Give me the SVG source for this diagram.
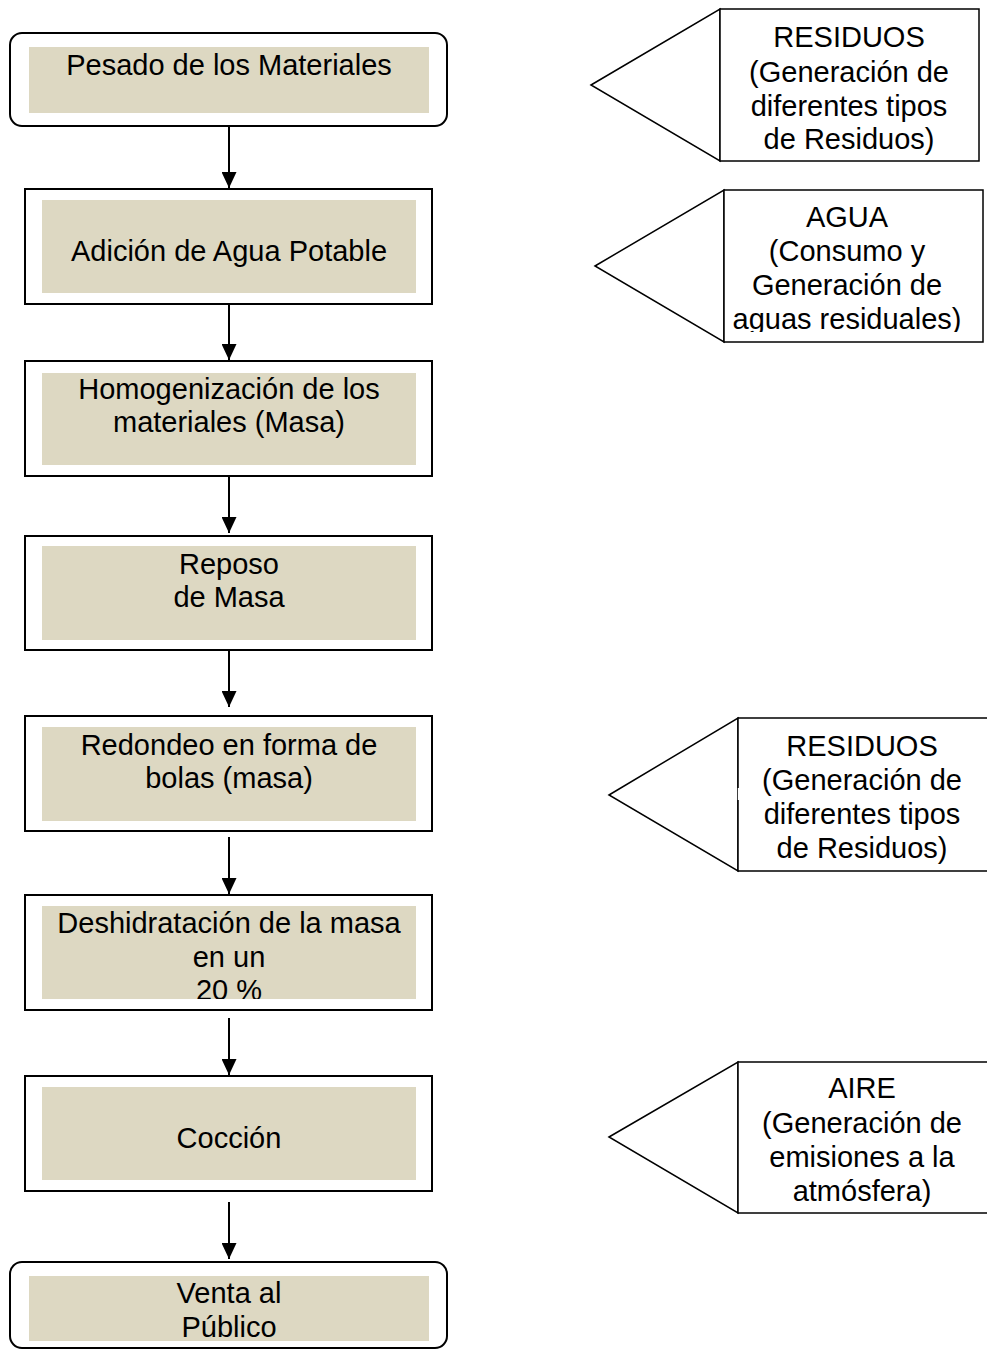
<svg xmlns="http://www.w3.org/2000/svg" width="987" height="1350" viewBox="0 0 987 1350">
<style>
.box{fill:#fff;stroke:#000;stroke-width:2}
.fill{fill:#DDD8C2}
.t{font-family:"Liberation Sans",Arial,sans-serif;font-size:29px;fill:#000;text-anchor:middle}
.c{fill:#fff;stroke:#000;stroke-width:1.5}
.a{stroke:#000;stroke-width:2;fill:none}
</style>
<defs>
<marker id="ah" markerWidth="16" markerHeight="15" refX="16" refY="7.5" orient="auto" markerUnits="userSpaceOnUse" viewBox="0 0 16 15">
<path d="M0,0 L16,7.5 L0,15 Z" fill="#000"/>
</marker>
<clipPath id="clip6"><rect x="42" y="906" width="374" height="93"/></clipPath>
<clipPath id="clipc2"><rect x="724" y="190" width="259" height="142"/></clipPath>
</defs>
<g id="n1">
<rect class="box" x="10" y="33" width="437" height="93" rx="12"/>
<rect class="fill" x="29" y="47" width="400" height="66"/>
<text class="t" x="229" y="75">Pesado de los Materiales</text>
</g>
<g id="n2">
<rect class="box" x="25" y="189" width="407" height="115"/>
<rect class="fill" x="42" y="200" width="374" height="93"/>
<text class="t" x="229" y="261">Adición de Agua Potable</text>
</g>
<g id="n3">
<rect class="box" x="25" y="361" width="407" height="115"/>
<rect class="fill" x="42" y="373" width="374" height="92"/>
<text class="t" x="229" y="399">Homogenización de los</text>
<text class="t" x="229" y="432">materiales (Masa)</text>
</g>
<g id="n4">
<rect class="box" x="25" y="536" width="407" height="114"/>
<rect class="fill" x="42" y="546" width="374" height="94"/>
<text class="t" x="229" y="574">Reposo</text>
<text class="t" x="229" y="607">de Masa</text>
</g>
<g id="n5">
<rect class="box" x="25" y="716" width="407" height="115"/>
<rect class="fill" x="42" y="727" width="374" height="94"/>
<text class="t" x="229" y="755">Redondeo en forma de</text>
<text class="t" x="229" y="788">bolas (masa)</text>
</g>
<g id="n6">
<rect class="box" x="25" y="895" width="407" height="115"/>
<rect class="fill" x="42" y="906" width="374" height="93"/>
<g clip-path="url(#clip6)">
<text class="t" x="229" y="933">Deshidratación de la masa</text>
<text class="t" x="229" y="967">en un</text>
<text class="t" x="229" y="1000">20 %</text>
</g>
</g>
<g id="n7">
<rect class="box" x="25" y="1076" width="407" height="115"/>
<rect class="fill" x="42" y="1087" width="374" height="93"/>
<text class="t" x="229" y="1148">Cocción</text>
</g>
<g id="n8">
<rect class="box" x="10" y="1262" width="437" height="86" rx="12"/>
<rect class="fill" x="29" y="1276" width="400" height="65"/>
<text class="t" x="229" y="1303">Venta al</text>
<text class="t" x="229" y="1337">Público</text>
</g>
<g id="c1">
<polygon class="c" points="591,85 720,9 720,161"/>
<rect class="c" x="720" y="9" width="259" height="152"/>
<text class="t" x="849" y="47">RESIDUOS</text>
<text class="t" x="849" y="82">(Generación de</text>
<text class="t" x="849" y="116">diferentes tipos</text>
<text class="t" x="849" y="149">de Residuos)</text>
</g>
<g id="c2">
<polygon class="c" points="595,266 724,190 724,342"/>
<rect class="c" x="724" y="190" width="259" height="152"/>
<g clip-path="url(#clipc2)">
<text class="t" x="847" y="227">AGUA</text>
<text class="t" x="847" y="261">(Consumo y</text>
<text class="t" x="847" y="295">Generación de</text>
<text class="t" x="847" y="329">aguas residuales)</text>
</g>
</g>
<g id="c3">
<polygon class="c" points="609,795 738,718 738,871"/>
<rect x="738" y="718" width="270" height="153" fill="#fff" stroke="none"/>
<path d="M1010,718 H738 V788 M738,800 V871 H1010" fill="none" stroke="#000" stroke-width="1.5"/>
<text class="t" x="862" y="756">RESIDUOS</text>
<text class="t" x="862" y="790">(Generación de</text>
<text class="t" x="862" y="824">diferentes tipos</text>
<text class="t" x="862" y="858">de Residuos)</text>
</g>
<g id="c4">
<polygon class="c" points="609,1137 738,1062 738,1213"/>
<rect class="c" x="738" y="1062" width="270" height="151"/>
<text class="t" x="862" y="1098">AIRE</text>
<text class="t" x="862" y="1133">(Generación de</text>
<text class="t" x="862" y="1167">emisiones a la</text>
<text class="t" x="862" y="1201">atmósfera)</text>
</g>
<g id="connectors">
<line class="a" x1="229" y1="126" x2="229" y2="188" marker-end="url(#ah)"/>
<line class="a" x1="229" y1="304" x2="229" y2="360" marker-end="url(#ah)"/>
<line class="a" x1="229" y1="476" x2="229" y2="533" marker-end="url(#ah)"/>
<line class="a" x1="229" y1="650" x2="229" y2="707" marker-end="url(#ah)"/>
<line class="a" x1="229" y1="837" x2="229" y2="894" marker-end="url(#ah)"/>
<line class="a" x1="229" y1="1018" x2="229" y2="1075" marker-end="url(#ah)"/>
<line class="a" x1="229" y1="1202" x2="229" y2="1259" marker-end="url(#ah)"/>
</g>
</svg>
